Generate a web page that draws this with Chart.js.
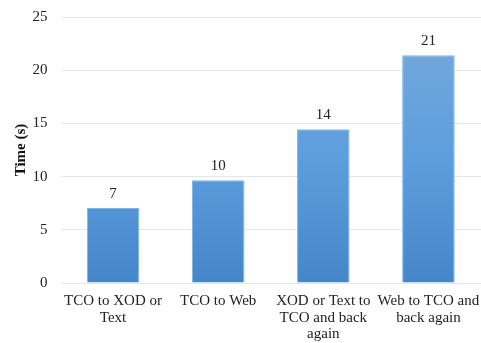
<!DOCTYPE html>
<html>
<head>
<meta charset="utf-8">
<script src="https://cdn.jsdelivr.net/npm/chart.js@4/dist/chart.umd.min.js"></script>
<style>
  html, body { margin: 0; padding: 0; background: #fff; }
  #wrap { width: 481px; height: 343px; }
</style>
</head>
<body>
<div id="wrap"><canvas id="c" width="481" height="343"></canvas></div>
<script>
// Conversion round-trip timings
const categories = [
  ['TCO to XOD or', 'Text'],
  ['TCO to Web'],
  ['XOD or Text to', 'TCO and back', 'again'],
  ['Web to TCO and', 'back again']
];
const timeSeconds = [7.05, 9.65, 14.45, 21.4];
const yTicks = [0, 5, 10, 15, 20, 25];

const serif = '"Liberation Serif", "Times New Roman", serif';

function barGradient(context) {
  const chart = context.chart;
  const area = chart.chartArea;
  if (!area) return '#5b9bd5';
  const y = chart.scales.y;
  const g = chart.ctx.createLinearGradient(0, y.getPixelForValue(22), 0, y.getPixelForValue(0));
  g.addColorStop(0, '#72a7dc');
  g.addColorStop(0.5, '#5b9ddc');
  g.addColorStop(1, '#4486c8');
  return g;
}

// Rounded value written above each bar
const valueLabels = {
  id: 'valueLabels',
  afterDatasetsDraw(chart) {
    const ctx = chart.ctx;
    const meta = chart.getDatasetMeta(0);
    ctx.save();
    ctx.font = '15px ' + serif;
    ctx.fillStyle = '#222';
    ctx.textAlign = 'center';
    ctx.textBaseline = 'alphabetic';
    meta.data.forEach((bar, i) => {
      ctx.fillText(String(Math.round(timeSeconds[i])), bar.x, bar.y - 10);
    });
    ctx.restore();
  }
};

new Chart(document.getElementById('c'), {
  type: 'bar',
  data: {
    labels: categories,
    datasets: [{
      data: timeSeconds,
      backgroundColor: barGradient,
      borderColor: '#80b2e2',
      borderWidth: { top: 1, left: 1, right: 1, bottom: 0 },
      categoryPercentage: 1.0,
      barPercentage: 0.5
    }]
  },
  options: {
    responsive: false,
    animation: false,
    devicePixelRatio: 1,
    layout: { padding: { top: 17, right: 0, left: 0, bottom: 0 } },
    plugins: {
      legend: { display: false },
      tooltip: { enabled: false }
    },
    scales: {
      x: {
        grid: { display: false, drawTicks: false },
        border: { display: false },
        ticks: {
          color: '#222',
          font: { family: serif, size: 15, lineHeight: 1.1 },
          padding: 10,
          maxRotation: 0,
          autoSkip: false
        },
        afterFit(scale) {
          scale.height = 60;
          scale.paddingLeft = 0;
          scale.paddingRight = 0;
        }
      },
      y: {
        min: 0,
        max: 25,
        afterBuildTicks(scale) { scale.ticks = yTicks.map(v => ({ value: v })); },
        grid: { color: '#e3e6ea', lineWidth: 1, drawTicks: false },
        border: { display: false },
        ticks: {
          color: '#222',
          font: { family: serif, size: 15 },
          padding: 13
        },
        title: {
          display: true,
          text: 'Time (s)',
          color: '#111',
          font: { family: serif, size: 15, weight: 'bold' },
          padding: { top: 12, bottom: 0 }
        },
        afterFit(scale) {
          scale.width = 60.5;
          scale.paddingTop = 0;
          scale.paddingBottom = 0;
        }
      }
    }
  },
  plugins: [valueLabels]
});
</script>
</body>
</html>
